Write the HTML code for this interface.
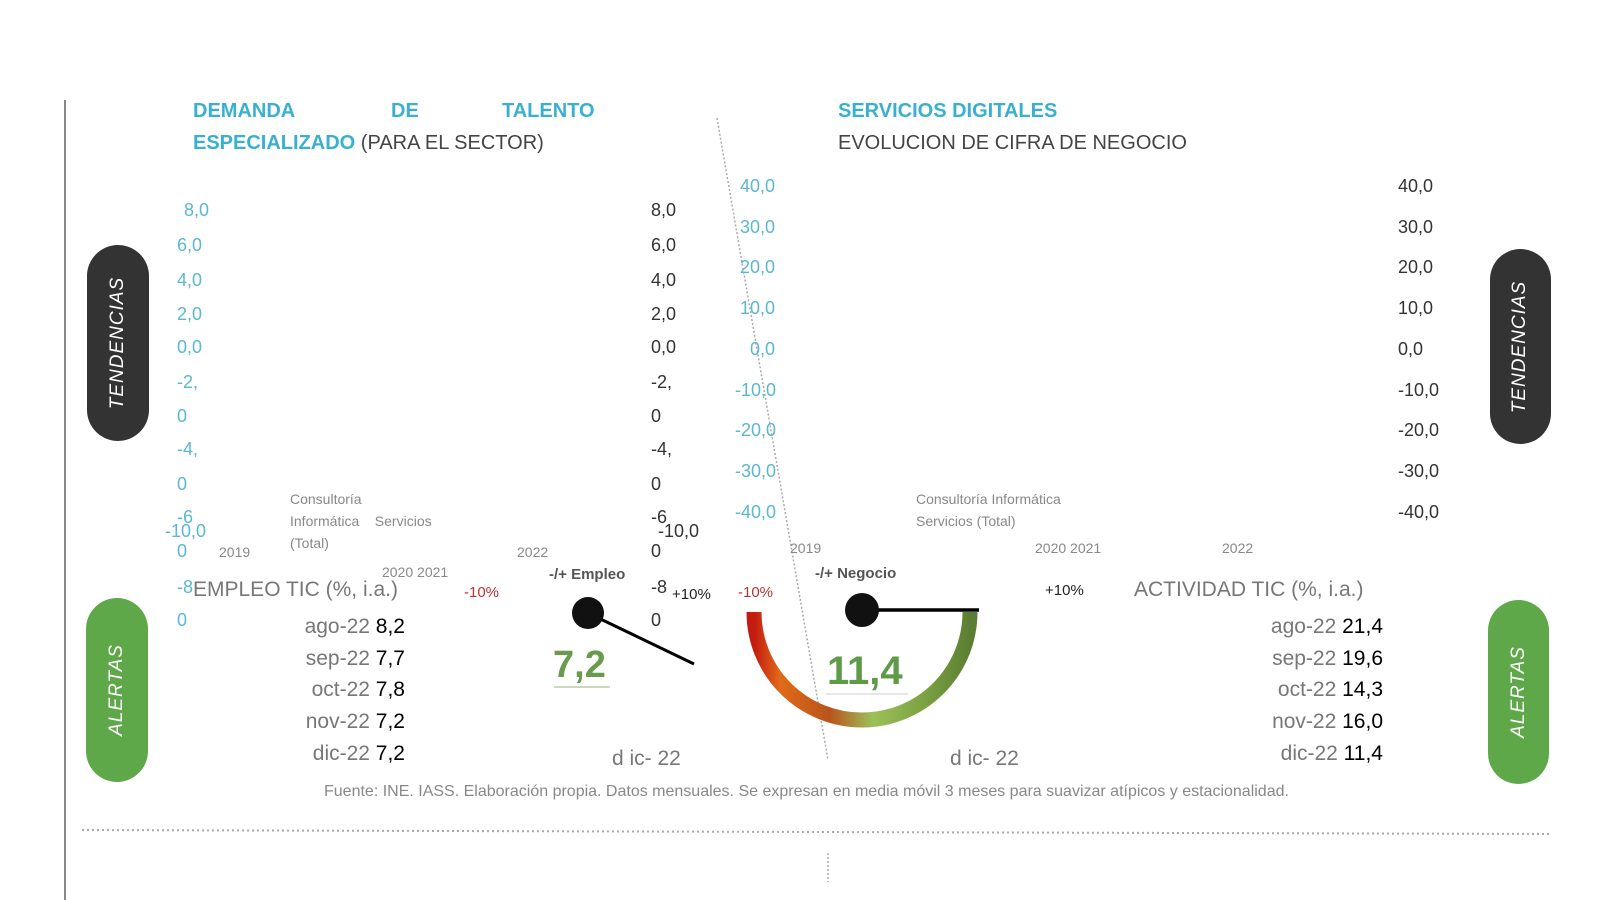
<!DOCTYPE html>
<html><head><meta charset="utf-8">
<style>
body{margin:0;width:1600px;height:900px;background:#fff;position:relative;overflow:hidden;font-family:"Liberation Sans",sans-serif}
.t{position:absolute;line-height:1;white-space:nowrap}
.b{color:#5ab8d0;font-size:18px}
.k{color:#333;font-size:18px}
.h{color:#3ab0d0;font-size:20px;font-weight:bold}
.s{color:#888;font-size:14px}
.g{color:#777;font-size:21px}
.v{color:#000;font-size:20px}
.pill{position:absolute;border-radius:31px;display:flex;align-items:center;justify-content:center}
.pill span{transform:rotate(-90deg);color:#fff;font-style:italic;font-size:19px;letter-spacing:1px;white-space:nowrap}
</style></head><body>
<div style="position:absolute;left:64px;top:100px;width:2px;height:800px;background:#888"></div>
<svg style="position:absolute;left:0;top:0" width="1600" height="900">
<line x1="717" y1="118" x2="828" y2="760" stroke="#aaa" stroke-width="1.5" stroke-dasharray="2,2"/>
<line x1="82" y1="830" x2="1552" y2="834" stroke="#aaa" stroke-width="2" stroke-dasharray="2,3"/>
<line x1="828" y1="853" x2="828" y2="882" stroke="#aaa" stroke-width="1.5" stroke-dasharray="2,2"/>
<defs>
<linearGradient id="gr" x1="0" y1="0" x2="1" y2="0">
<stop offset="0" stop-color="#c41a10"/><stop offset="0.12" stop-color="#e06a18"/><stop offset="0.35" stop-color="#b9541c"/><stop offset="0.55" stop-color="#9cc05a"/><stop offset="0.8" stop-color="#7aa040"/><stop offset="1" stop-color="#5c7e34"/>
</linearGradient></defs>
<path d="M754 612 A108 108 0 0 0 970 612" fill="none" stroke="url(#gr)" stroke-width="15"/>
<line x1="588" y1="613" x2="694" y2="664" stroke="#000" stroke-width="3"/>
<circle cx="588" cy="613" r="16" fill="#111"/>
<line x1="862" y1="610" x2="979" y2="610" stroke="#000" stroke-width="3.5"/>
<circle cx="862" cy="610" r="17" fill="#111"/>
<line x1="554" y1="687" x2="610" y2="687" stroke="#9ab07a" stroke-width="1"/>
<line x1="826" y1="694" x2="908" y2="694" stroke="#ccc" stroke-width="1"/>
</svg>
<div class="pill" style="left:87px;top:245px;width:62px;height:196px;background:#333"><span>TENDENCIAS</span></div>
<div class="pill" style="left:1490px;top:249px;width:61px;height:195px;background:#333"><span>TENDENCIAS</span></div>
<div class="pill" style="left:86px;top:598px;width:62px;height:184px;background:#5fa84a"><span>ALERTAS</span></div>
<div class="pill" style="left:1488px;top:600px;width:61px;height:184px;background:#5fa84a"><span>ALERTAS</span></div>

<div class="t h" style="left:193px;top:101px">DEMANDA</div>
<div class="t h" style="left:391px;top:101px">DE</div>
<div class="t h" style="left:502px;top:101px">TALENTO</div>
<div class="t h" style="left:193px;top:133px">ESPECIALIZADO<span style="font-weight:normal;color:#444"> (PARA EL SECTOR)</span></div>
<div class="t h" style="left:838px;top:101px">SERVICIOS DIGITALES</div>
<div class="t" style="left:838px;top:133px;font-size:20px;color:#444">EVOLUCION DE CIFRA DE NEGOCIO</div>

<div class="t b" style="left:184px;top:201px">8,0</div>
<div class="t b" style="left:177px;top:236px">6,0</div>
<div class="t b" style="left:177px;top:271px">4,0</div>
<div class="t b" style="left:177px;top:305px">2,0</div>
<div class="t b" style="left:177px;top:338px">0,0</div>
<div class="t b" style="left:177px;top:373px">-2,</div>
<div class="t b" style="left:177px;top:407px">0</div>
<div class="t b" style="left:177px;top:440px">-4,</div>
<div class="t b" style="left:177px;top:475px">0</div>
<div class="t b" style="left:177px;top:508px">-6</div>
<div class="t b" style="left:165px;top:522px">-10,0</div>
<div class="t b" style="left:177px;top:542px">0</div>
<div class="t b" style="left:177px;top:578px">-8</div>
<div class="t b" style="left:177px;top:611px">0</div>

<div class="t k" style="left:651px;top:201px">8,0</div>
<div class="t k" style="left:651px;top:236px">6,0</div>
<div class="t k" style="left:651px;top:271px">4,0</div>
<div class="t k" style="left:651px;top:305px">2,0</div>
<div class="t k" style="left:651px;top:338px">0,0</div>
<div class="t k" style="left:651px;top:373px">-2,</div>
<div class="t k" style="left:651px;top:407px">0</div>
<div class="t k" style="left:651px;top:440px">-4,</div>
<div class="t k" style="left:651px;top:475px">0</div>
<div class="t k" style="left:651px;top:508px">-6</div>
<div class="t k" style="left:658px;top:522px">-10,0</div>
<div class="t k" style="left:651px;top:542px">0</div>
<div class="t k" style="left:651px;top:578px">-8</div>
<div class="t k" style="left:651px;top:611px">0</div>

<div class="t b" style="left:740px;top:177px">40,0</div>
<div class="t b" style="left:740px;top:218px">30,0</div>
<div class="t b" style="left:740px;top:258px">20,0</div>
<div class="t b" style="left:740px;top:299px">10,0</div>
<div class="t b" style="left:750px;top:340px">0,0</div>
<div class="t b" style="left:735px;top:381px">-10,0</div>
<div class="t b" style="left:735px;top:421px">-20,0</div>
<div class="t b" style="left:735px;top:462px">-30,0</div>
<div class="t b" style="left:735px;top:503px">-40,0</div>

<div class="t k" style="left:1398px;top:177px">40,0</div>
<div class="t k" style="left:1398px;top:218px">30,0</div>
<div class="t k" style="left:1398px;top:258px">20,0</div>
<div class="t k" style="left:1398px;top:299px">10,0</div>
<div class="t k" style="left:1398px;top:340px">0,0</div>
<div class="t k" style="left:1398px;top:381px">-10,0</div>
<div class="t k" style="left:1398px;top:421px">-20,0</div>
<div class="t k" style="left:1398px;top:462px">-30,0</div>
<div class="t k" style="left:1398px;top:503px">-40,0</div>

<div class="t s" style="left:290px;top:488px;line-height:22px">Consultoría<br>Informática &nbsp;&nbsp;&nbsp;Servicios<br>(Total)</div>
<div class="t s" style="left:219px;top:545px">2019</div>
<div class="t s" style="left:382px;top:565px">2020 2021</div>
<div class="t s" style="left:517px;top:545px">2022</div>
<div class="t s" style="left:916px;top:488px;line-height:22px">Consultoría Informática<br>Servicios (Total)</div>
<div class="t s" style="left:790px;top:541px">2019</div>
<div class="t s" style="left:1035px;top:541px">2020 2021</div>
<div class="t s" style="left:1222px;top:541px">2022</div>

<div class="t g" style="left:193px;top:579px">EMPLEO TIC (%, i.a.)</div>
<div class="t g" style="left:1134px;top:579px">ACTIVIDAD TIC (%, i.a.)</div>
<div class="t" style="left:464px;top:585px;font-size:15px;color:#b33">-10%</div>
<div class="t" style="left:672px;top:587px;font-size:15px;color:#222">+10%</div>
<div class="t" style="left:738px;top:585px;font-size:15px;color:#b33">-10%</div>
<div class="t" style="left:1045px;top:583px;font-size:15px;color:#222">+10%</div>
<div class="t" style="left:549px;top:567px;font-size:15px;color:#555;font-weight:bold">-/+ Empleo</div>
<div class="t" style="left:815px;top:566px;font-size:15px;color:#555;font-weight:bold">-/+ Negocio</div>

<div class="t" style="left:553px;top:646px;font-size:38px;font-weight:bold;color:#6a9a4c">7,2</div>
<div class="t" style="left:827px;top:651px;font-size:40px;font-weight:bold;color:#5f9a48">11,4</div>
<div class="t g" style="left:612px;top:748px">d ic- 22</div>
<div class="t g" style="left:950px;top:748px">d ic- 22</div>

<div class="t g" style="right:1195px;top:611px;text-align:right;line-height:31.7px">ago-22 <span style="color:#000">8,2</span><br>sep-22 <span style="color:#000">7,7</span><br>oct-22 <span style="color:#000">7,8</span><br>nov-22 <span style="color:#000">7,2</span><br>dic-22 <span style="color:#000">7,2</span></div>
<div class="t g" style="right:217px;top:611px;text-align:right;line-height:31.7px">ago-22 <span style="color:#000">21,4</span><br>sep-22 <span style="color:#000">19,6</span><br>oct-22 <span style="color:#000">14,3</span><br>nov-22 <span style="color:#000">16,0</span><br>dic-22 <span style="color:#000">11,4</span></div>

<div class="t" style="left:324px;top:784px;font-size:16px;color:#888">Fuente: INE. IASS. Elaboración propia. Datos mensuales. Se expresan en media móvil 3 meses para suavizar atípicos y estacionalidad.</div>
</body></html>
